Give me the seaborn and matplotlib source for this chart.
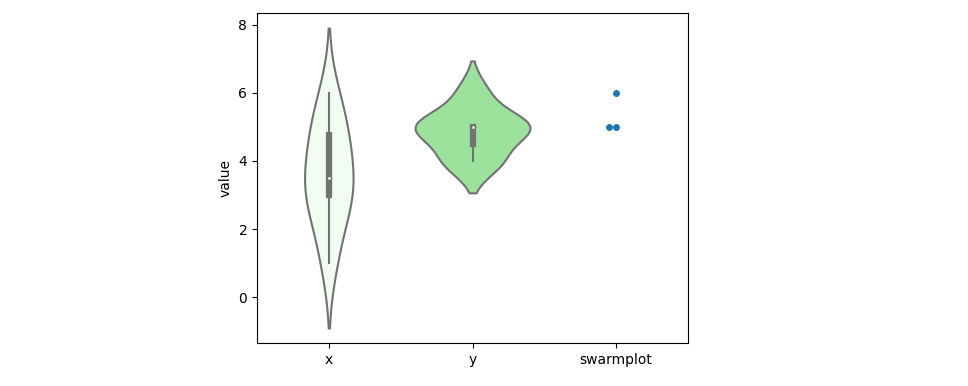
import numpy as np
import pandas as pd
import seaborn as sns
import matplotlib.pyplot as plt
from matplotlib import cbook

categories = ["x", "y", "swarmplot"]
x_values = [1, 2, 3, 3, 3, 4, 4, 5, 5, 6]
y_values = [4, 4, 5, 5, 5, 5, 6]
swarm_values = [5, 5, 6]
violin_colors = ["honeydew", "lightgreen"]
gray = "#727272"

violin_df = pd.DataFrame({
    "variable": ["x"] * len(x_values) + ["y"] * len(y_values),
    "value": x_values + y_values,
})
swarm_df = pd.DataFrame({"variable": ["swarmplot"] * len(swarm_values),
                         "value": swarm_values})

fig = plt.figure(figsize=(9.68, 3.86), dpi=100)
ax = fig.add_axes([257 / 968, 43 / 386, 431 / 968, 330 / 386])

# no hue so that the "area" scaling is shared by both violins
sns.violinplot(data=violin_df, x="variable", y="value", order=categories,
               color=violin_colors[0], inner=None, linewidth=1.5,
               linecolor=gray, saturation=0.75, ax=ax)
for coll, c in zip(ax.collections, violin_colors):
    coll.set_facecolor(sns.desaturate(c, 0.75))

sns.swarmplot(data=swarm_df, x="variable", y="value", order=categories,
              color="#1f77b4", size=5, ax=ax)

# old-style inner box: thick box, thin whiskers, white median dot
for i, cat in enumerate(categories[:2]):
    obs = violin_df.loc[violin_df["variable"] == cat, "value"].to_numpy()
    st = cbook.boxplot_stats(obs)[0]
    ax.plot([i, i], [st["whislo"], st["whishi"]], color=gray, lw=1.5)
    ax.plot([i, i], [st["q1"], st["q3"]], color=gray, lw=4.5)
    ax.scatter(i, st["med"], s=9, color="white", edgecolor=gray, zorder=3)

ax.set_xlim(-0.5, 2.5)
ax.set_xlabel("")
ax.set_ylabel("value")

fig.savefig("out.png", dpi=100)
